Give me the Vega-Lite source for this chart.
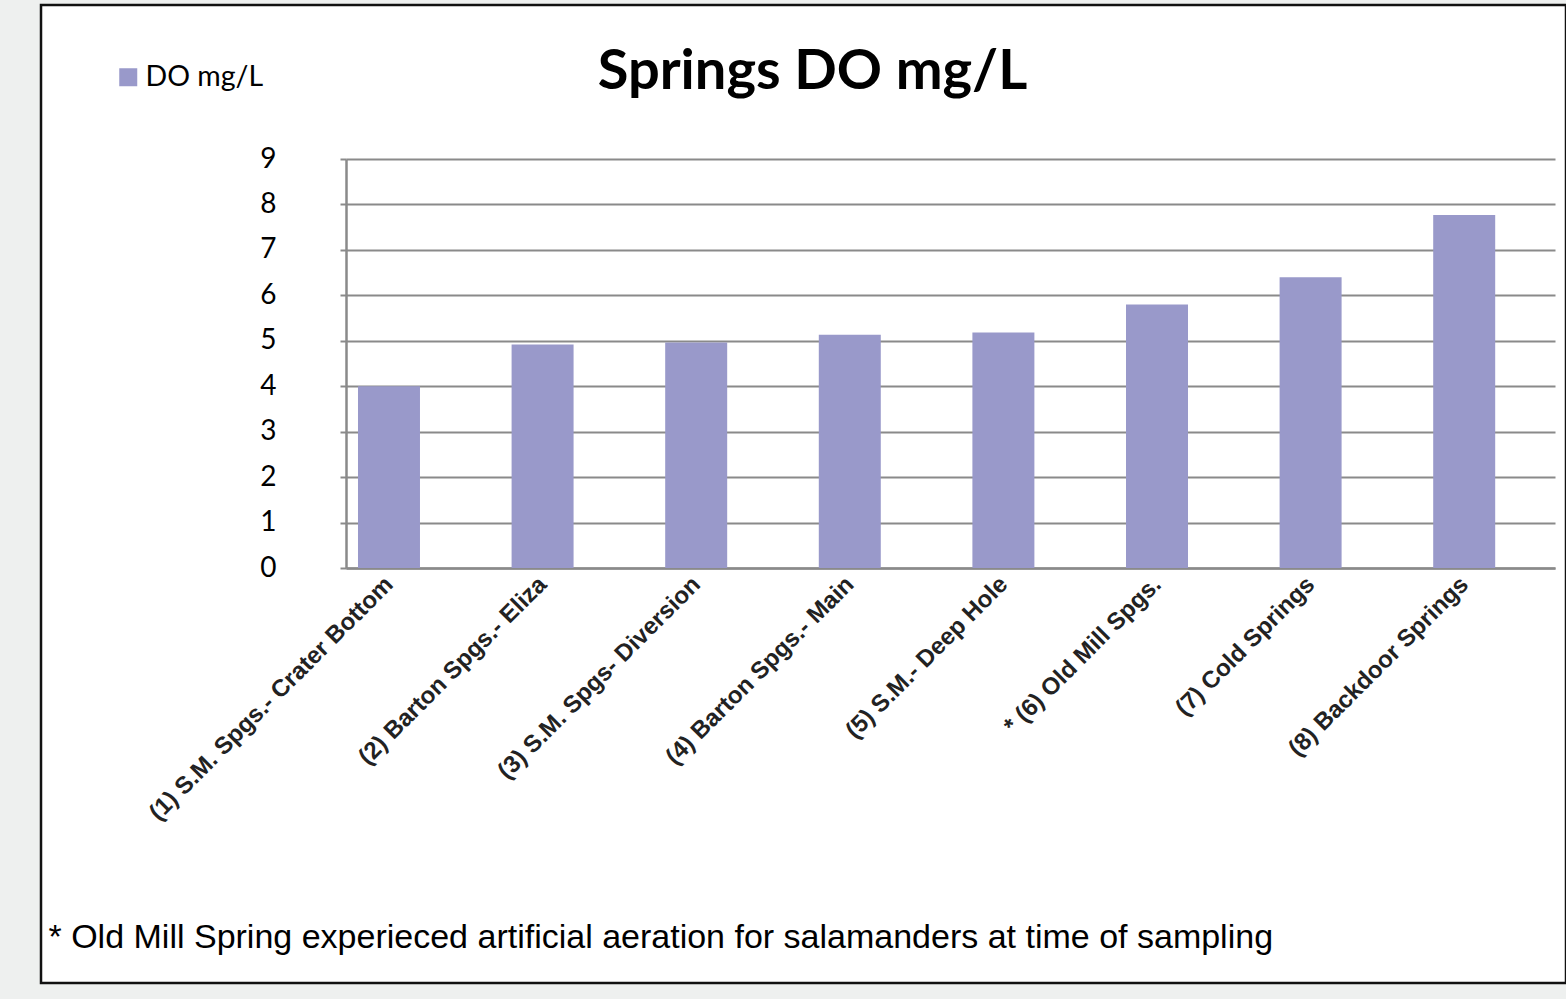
{
  "$schema": "https://vega.github.io/schema/vega-lite/v6.json",
  "width": 1525,
  "height": 978,
  "autosize": {"type": "none"},
  "padding": {"left": 41, "top": 5, "right": 0, "bottom": 16},
  "background": "#eef0ef",
  "view": {"fill": "#ffffff", "stroke": "#111111", "strokeWidth": 2.5},
  "title": {
    "text": "Springs DO mg/L",
    "font": "Lato",
    "fontSize": 56,
    "fontWeight": "bold",
    "color": "#000000",
    "anchor": "middle",
    "frame": "group",
    "dx": 9,
    "offset": -140,
    "baseline": "alphabetic"
  },
  "data": {
    "values": [
      {"label": "(1) S.M. Spgs.- Crater Bottom", "do": 4.0},
      {"label": "(2) Barton Spgs.- Eliza", "do": 4.92},
      {"label": "(3) S.M. Spgs- Diversion", "do": 4.96},
      {"label": "(4) Barton Spgs.- Main", "do": 5.13},
      {"label": "(5) S.M.- Deep Hole", "do": 5.18},
      {"label": "* (6) Old Mill Spgs.", "do": 5.8},
      {"label": "(7) Cold Springs", "do": 6.4},
      {"label": "(8) Backdoor Springs", "do": 7.77}
    ]
  },
  "mark": {"type": "bar"},
  "encoding": {
    "x": {
      "field": "label",
      "type": "nominal",
      "sort": null,
      "scale": {"range": [305, 1514], "paddingInner": 0.5964, "paddingOuter": 0.2337, "align": 0.167},
      "axis": {
        "offset": -415,
        "labelAngle": -45,
        "labelFont": "Liberation Sans",
        "labelFontWeight": "bold",
        "labelFontSize": 24,
        "labelColor": "#222222",
        "labelPadding": 4,
        "labelOffset": -8,
        "labelLimit": 0,
        "ticks": false,
        "domainColor": "#8a8a8a",
        "domainWidth": 2.5,
        "grid": false,
        "title": "* Old Mill Spring experieced artificial aeration for salamanders at time of sampling",
        "titleFont": "Liberation Sans",
        "titleFontWeight": "normal",
        "titleFontSize": 34,
        "titleColor": "#000000",
        "titleAnchor": "start",
        "titleAlign": "left",
        "titleBaseline": "alphabetic",
        "titleAngle": 0,
        "titleX": 7,
        "titleY": 379
      }
    },
    "y": {
      "field": "do",
      "type": "quantitative",
      "scale": {"domain": [0, 9], "range": [563, 154], "nice": false},
      "axis": {
        "offset": -305,
        "values": [0, 1, 2, 3, 4, 5, 6, 7, 8, 9],
        "title": null,
        "labelFont": "Lato",
        "labelFontSize": 28,
        "labelColor": "#000000",
        "tickSize": 6,
        "tickColor": "#8a8a8a",
        "tickWidth": 2,
        "labelPadding": 64,
        "domainColor": "#8a8a8a",
        "domainWidth": 2.5,
        "grid": true,
        "gridColor": "#8a8a8a",
        "gridWidth": 2,
        "gridOpacity": 1
      }
    },
    "color": {
      "datum": "DO mg/L",
      "type": "nominal",
      "scale": {"range": ["#9999ca"]},
      "legend": {
        "orient": "none",
        "legendX": 73,
        "legendY": 58,
        "title": null,
        "symbolType": "square",
        "symbolSize": 324,
        "symbolStrokeWidth": 0,
        "labelFont": "Lato",
        "labelFontSize": 28.5,
        "labelColor": "#000000",
        "labelOffset": 3,
        "padding": 0
      }
    }
  }
}
